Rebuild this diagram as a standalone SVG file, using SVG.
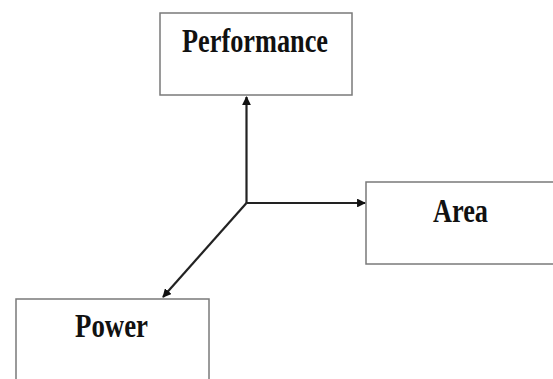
<svg xmlns="http://www.w3.org/2000/svg" width="553" height="379" viewBox="0 0 553 379">
<style>
.box{fill:#fff;stroke:#7a7a7a;stroke-width:1.5}
.lbl{font-family:"Liberation Serif","Times New Roman",serif;font-weight:bold;font-size:34px;fill:#111}
.conn{stroke:#222;stroke-width:2.2;fill:none;marker-end:url(#ah)}
</style>
<defs>
<marker id="ah" viewBox="0 0 10 10" refX="9" refY="5" markerWidth="4" markerHeight="4" orient="auto" markerUnits="strokeWidth">
<path d="M0,0 L10,5 L0,10 z" fill="#111"/>
</marker>
</defs>
<rect width="553" height="379" fill="#fff"/>
<g id="performance">
<rect class="box" x="160" y="13" width="192" height="82"/>
<text class="lbl" x="182" y="52" textLength="146" lengthAdjust="spacingAndGlyphs">Performance</text>
</g>
<g id="area">
<rect class="box" x="366" y="182" width="200" height="82"/>
<text class="lbl" x="433" y="222" textLength="55" lengthAdjust="spacingAndGlyphs">Area</text>
</g>
<g id="power">
<rect class="box" x="16" y="299" width="193" height="100"/>
<text class="lbl" x="75" y="337" textLength="73" lengthAdjust="spacingAndGlyphs">Power</text>
</g>
<g id="connectors">
<line class="conn" x1="246.5" y1="203" x2="246.5" y2="97"/>
<line class="conn" x1="246.5" y1="203" x2="365" y2="203"/>
<line class="conn" x1="246.5" y1="203" x2="163" y2="297"/>
</g>
</svg>
